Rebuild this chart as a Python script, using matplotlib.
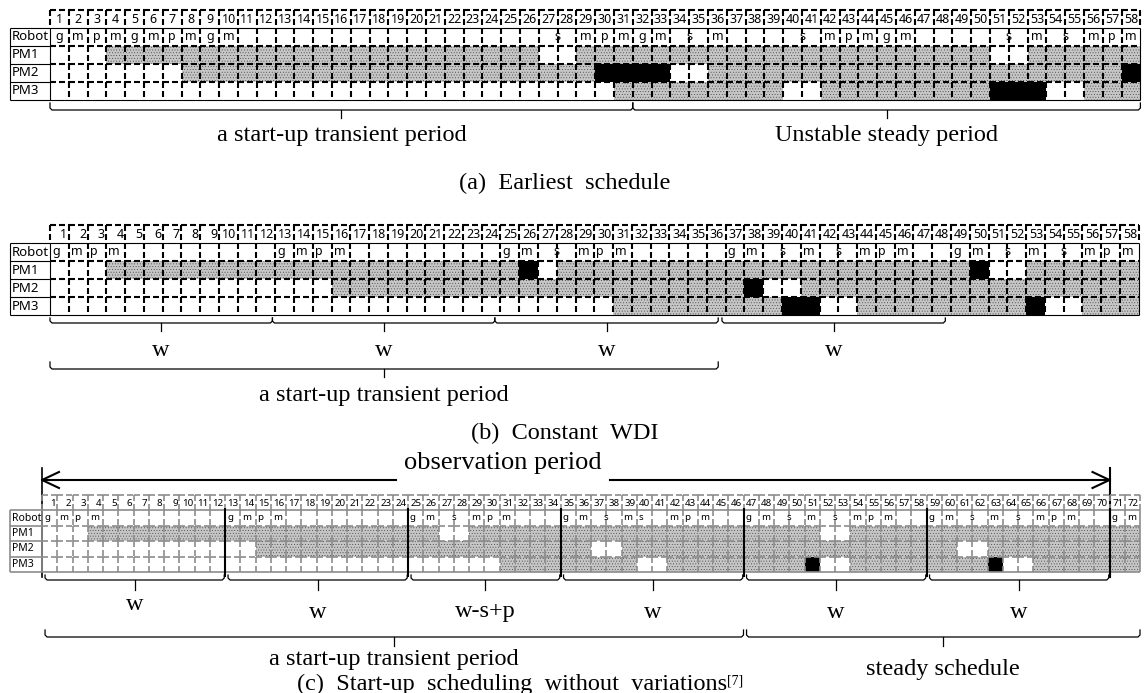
import matplotlib
matplotlib.use("Agg")
import matplotlib.pyplot as plt
from matplotlib.collections import LineCollection

W, H = 1145, 693

# ---------------- (a) earliest schedule ----------------
A_SLOTS = 58
A_ROBOT = [(1, 'g'), (2, 'm'), (3, 'p'), (4, 'm'), (5, 'g'), (6, 'm'), (7, 'p'), (8, 'm'),
           (9, 'g'), (10, 'm'), (27.5, 's'), (29, 'm'), (30, 'p'), (31, 'm'), (32, 'g'),
           (33, 'm'), (34.5, 's'), (36, 'm'), (40.5, 's'), (42, 'm'), (43, 'p'), (44, 'm'),
           (45, 'g'), (46, 'm'), (51.5, 's'), (53, 'm'), (54.5, 's'), (56, 'm'), (57, 'p'),
           (58, 'm')]
# runs of (first slot, last slot, kind) -- g: processing, b: waiting/blocked
A_PM1 = [(4, 26, 'g'), (29, 50, 'g'), (53, 58, 'g')]
A_PM2 = [(8, 29, 'g'), (30, 33, 'b'), (36, 57, 'g'), (58, 58, 'b')]
A_PM3 = [(31, 39, 'g'), (42, 50, 'g'), (51, 53, 'b'), (56, 58, 'g')]
A_BRACES = [(0, 31), (31, 58)]
A_BRACE_TEXT = ['a start-up transient period', 'Unstable steady period']

# ---------------- (b) constant WDI ----------------
B_SLOTS = 58
B_ROBOT = [(1, 'g'), (2, 'm'), (3, 'p'), (4, 'm'), (13, 'g'), (14, 'm'), (15, 'p'), (16, 'm'),
           (25, 'g'), (26, 'm'), (27.5, 's'), (29, 'm'), (30, 'p'), (31, 'm'), (37, 'g'),
           (38, 'm'), (39.5, 's'), (41, 'm'), (42.5, 's'), (44, 'm'), (45, 'p'), (46, 'm'),
           (49, 'g'), (50, 'm'), (51.5, 's'), (53, 'm'), (54.5, 's'), (56, 'm'), (57, 'p'),
           (58, 'm')]
B_PM1 = [(4, 25, 'g'), (26, 26, 'b'), (28, 49, 'g'), (50, 50, 'b'), (53, 58, 'g')]
B_PM2 = [(16, 37, 'g'), (38, 38, 'b'), (41, 58, 'g')]
B_PM3 = [(31, 39, 'g'), (40, 41, 'b'), (44, 52, 'g'), (53, 53, 'b'), (56, 58, 'g')]
B_W_BRACES = [(0, 11.85), (11.85, 23.7), (23.7, 35.6), (35.8, 47.7)]
B_W_TEXT = ['w', 'w', 'w', 'w']
B_BRACES = [(0, 35.6)]
B_BRACE_TEXT = ['a start-up transient period']

# ---------------- (c) start-up scheduling without variations ----------------
C_SLOTS = 72
C_ROBOT = [(1, 'g'), (2, 'm'), (3, 'p'), (4, 'm'), (13, 'g'), (14, 'm'), (15, 'p'), (16, 'm'),
           (25, 'g'), (26, 'm'), (27.5, 's'), (29, 'm'), (30, 'p'), (31, 'm'), (35, 'g'),
           (36, 'm'), (37.5, 's'), (39, 'm'), (40, 's'), (42, 'm'), (43, 'p'), (44, 'm'),
           (47, 'g'), (48, 'm'), (49.5, 's'), (51, 'm'), (52.5, 's'), (54, 'm'), (55, 'p'),
           (56, 'm'), (59, 'g'), (60, 'm'), (61.5, 's'), (63, 'm'), (64.5, 's'), (66, 'm'),
           (67, 'p'), (68, 'm'), (71, 'g'), (72, 'm')]
C_PM1 = [(4, 26, 'g'), (29, 51, 'g'), (54, 72, 'g')]
C_PM2 = [(15, 36, 'g'), (39, 60, 'g'), (63, 72, 'g')]
C_PM3 = [(31, 39, 'g'), (42, 50, 'g'), (51, 51, 'b'), (54, 62, 'g'), (63, 63, 'b'), (66, 72, 'g')]
C_CUTS = [12, 24, 34, 46, 58, 70]
C_W_TEXT = ['w', 'w', 'w-s+p', 'w', 'w', 'w']
C_BRACES = [(0, 46), (46, 72)]
C_BRACE_TEXT = ['a start-up transient period', 'steady schedule']
C_OBS = (0, 70)

ROW_NAMES = ['Robot', 'PM1', 'PM2', 'PM3']
SERIF = ['Liberation Serif', 'DejaVu Serif']
SANS = ['Noto Sans', 'DejaVu Sans']

# pixel geometry of each table: left edge of slot 1, slot width, header top, row height
GEO_A = dict(x0=50, w=18.8, y0=10, h=18, xl=10, fs=9, num='center')
GEO_B = dict(x0=50, w=18.77, y0=225, h=18, xl=10, fs=9, num='right')
GEO_C = dict(x0=42, w=15.25, y0=495, h=15.4, xl=10, fs=7, num='right')

STYLE_BW = dict(dash='black', dlw=1.5, solid='black', slw=0.8)
STYLE_GRAY = dict(dash='#8c8c8c', dlw=1.2, solid='#8c8c8c', slw=1.2)

plt.rcParams['hatch.linewidth'] = 0.3

fig = plt.figure(figsize=(W / 100, H / 100), dpi=100)
ov = fig.add_axes([0, 0, 1, 1])
ov.set_xlim(0, W)
ov.set_ylim(H, 0)
ov.axis('off')


def px(g, k):
    return g['x0'] + k * g['w']


def draw_table(g, n, robot, pms, st):
    ax = fig.add_axes([0, 0, 1, 1])
    ax.set_xlim(-g['x0'] / g['w'], (W - g['x0']) / g['w'])
    ax.set_ylim((H - g['y0']) / g['h'], -g['y0'] / g['h'])
    ax.axis('off')
    ax.patch.set_alpha(0)
    xl = (g['xl'] - g['x0']) / g['w']

    for i, runs in enumerate(pms):
        gray = [(s - 1, e - s + 1) for s, e, k in runs if k == 'g']
        black = [(s - 1, e - s + 1) for s, e, k in runs if k == 'b']
        ax.broken_barh(gray, (2 + i, 1), facecolor='#c6c6c6', edgecolor='#404040',
                       hatch='......', linewidth=0, zorder=1)
        if black:
            ax.broken_barh(black, (2 + i, 1), facecolor='black', linewidth=0, zorder=1)

    dashed = []
    dashed += [[(k, 0), (k + 1, 0)] for k in range(n)]
    dashed += [[(k, 0), (k, 1)] for k in range(n + 1)]
    for r in (2, 3, 4):
        dashed += [[(k, r), (k + 1, r)] for k in range(n)]
    for r in (1, 2, 3, 4):
        dashed += [[(k, r), (k, r + 1)] for k in range(1, n)]
    dl = 6 / (st['dlw'] * 1.389)
    gl = 3 / (st['dlw'] * 1.389)
    ax.add_collection(LineCollection(dashed, colors=st['dash'], linewidths=st['dlw'],
                                     linestyles=[(0, (dl, gl))], zorder=2))

    solid = [[(xl, 1), (n, 1)], [(xl, 5), (n, 5)], [(xl, 1), (xl, 5)],
             [(0, 1), (0, 5)], [(n, 1), (n, 5)]]
    solid += [[(xl, r), (0, r)] for r in (2, 3, 4)]
    ax.add_collection(LineCollection(solid, colors=st['solid'], linewidths=st['slw'], zorder=3))

    for i, name in enumerate(ROW_NAMES):
        ax.text(xl + 2 / g['w'], 1.5 + i, name, ha='left', va='center',
                fontsize=g['fs'] + 0.5, family=SANS, zorder=4)

    for k in range(1, n + 1):
        if g['num'] == 'center':
            ax.text(k - 0.5, 0.55, str(k), ha='center', va='center',
                    fontsize=g['fs'], family=SANS, zorder=4)
        else:
            ax.text(k - 1.5 / g['w'], 0.55, str(k), ha='right', va='center',
                    fontsize=g['fs'], family=SANS, zorder=4)

    for pos, lab in robot:
        if g['num'] == 'center' or pos % 1:
            ax.text(pos - 0.5, 1.45, lab, ha='center', va='center',
                    fontsize=g['fs'], family=SANS, zorder=4)
        else:
            ax.text(pos - 1 + 2 / g['w'], 1.45, lab, ha='left', va='center',
                    fontsize=g['fs'], family=SANS, zorder=4)
    return ax


def brace(g, k1, k2, ytop, ymid, ybot, lw=0.9):
    x1, x2 = px(g, k1), px(g, k2)
    xc = (x1 + x2) / 2
    ov.plot([x1, x1, x1 + 2, x2 - 2, x2, x2], [ytop, ymid - 2, ymid, ymid, ymid - 2, ytop],
            color='black', lw=lw, solid_joinstyle='round')
    ov.plot([xc, xc], [ymid, ybot], color='black', lw=lw)
    return xc


TXT = dict(family=SERIF, fontsize=17.5, ha='center', va='center')

# (a)
draw_table(GEO_A, A_SLOTS, A_ROBOT, [A_PM1, A_PM2, A_PM3], STYLE_BW)
for (k1, k2), lab in zip(A_BRACES, A_BRACE_TEXT):
    xc = brace(GEO_A, k1, k2, 103, 110, 118)
    ov.text(xc, 135, lab, **TXT)
ov.text(565, 183, '(a)  Earliest  schedule', **TXT)

# (b)
draw_table(GEO_B, B_SLOTS, B_ROBOT, [B_PM1, B_PM2, B_PM3], STYLE_BW)
for (k1, k2), lab in zip(B_W_BRACES, B_W_TEXT):
    xc = brace(GEO_B, k1, k2, 318, 323, 331)
    ov.text(xc, 350, lab, **TXT)
for (k1, k2), lab in zip(B_BRACES, B_BRACE_TEXT):
    xc = brace(GEO_B, k1, k2, 362, 369, 377)
    ov.text(xc, 396, lab, **TXT)
ov.text(565, 433, '(b)  Constant  WDI', **TXT)

# (c)
axc = draw_table(GEO_C, C_SLOTS, C_ROBOT, [C_PM1, C_PM2, C_PM3], STYLE_GRAY)
axc.add_collection(LineCollection([[(k, 0.85), (k, 5.3)] for k in C_CUTS],
                                  colors='black', linewidths=1.5, zorder=5))
edges = [0] + C_CUTS
for i, lab in enumerate(C_W_TEXT):
    xc = brace(GEO_C, edges[i] + 0.2, edges[i + 1] - 0.05, 575, 580, 590)
    ov.text(xc, 604 if i == 0 else 612, lab, **TXT)
ys = [660, 670]
for (k1, k2), lab, y in zip(C_BRACES, C_BRACE_TEXT, ys):
    xc = brace(GEO_C, k1 + 0.2, k2, 630, 637, 646)
    ov.text(xc, y, lab, **TXT)

# observation period arrow
xa, xb = px(GEO_C, C_OBS[0]), px(GEO_C, C_OBS[1])
obs = ov.text(503, 463, 'observation period', family=SERIF, fontsize=19,
              ha='center', va='center')
fig.canvas.draw()
bb = obs.get_window_extent().transformed(ov.transData.inverted())
ya = 480
ov.plot([xa, bb.x0 - 8], [ya, ya], color='black', lw=1.5)
ov.plot([bb.x1 + 8, xb], [ya, ya], color='black', lw=1.5)
ov.plot([xa + 17, xa, xa + 17], [ya - 8, ya, ya + 8], color='black', lw=1.5)
ov.plot([xb - 17, xb, xb - 17], [ya - 8, ya, ya + 8], color='black', lw=1.5)
ov.plot([xa, xa], [468, 577], color='black', lw=1.2)
ov.plot([xb, xb], [468, 577], color='black', lw=1.5)

cap = ov.text(512, 684, '(c)  Start-up  scheduling  without  variations', **TXT)
ov.annotate('[7]', xy=(1.0, 0.95), xycoords=cap, ha='left', va='top',
            family=SERIF, fontsize=10)

fig.savefig('out.png', dpi=100, facecolor='white')
